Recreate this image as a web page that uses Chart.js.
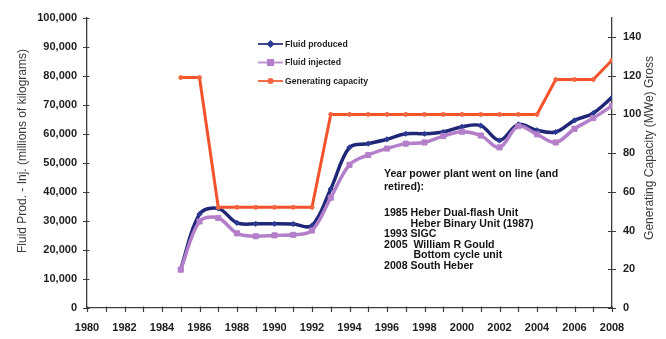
<!DOCTYPE html>
<html>
<head>
<meta charset="utf-8">
<script src="https://cdn.jsdelivr.net/npm/chart.js@4.4.1/dist/chart.umd.min.js"></script>
<style>
  html, body { margin: 0; padding: 0; background: #ffffff; }
  #wrap { width: 666px; height: 339px; }
</style>
</head>
<body>
<div id="wrap"><canvas id="c" width="666" height="339"></canvas></div>
<script>
// Heber geothermal field: yearly fluid production / injection and installed capacity
const years = [1985, 1986, 1987, 1988, 1989, 1990, 1991, 1992, 1993, 1994, 1995, 1996,
               1997, 1998, 1999, 2000, 2001, 2002, 2003, 2004, 2005, 2006, 2007, 2008];

// millions of kilograms
const fluidProduced = [13500, 32300, 34300, 29300, 29000, 29000, 28900, 28400, 41000, 55300, 56600, 58100,
                       60000, 60000, 60600, 62400, 62800, 57700, 63200, 61200, 60600, 64600, 67100, 72500];
const fluidInjected = [13200, 29800, 31000, 25700, 24700, 25000, 25200, 26700, 38000, 49300, 52700, 54900,
                       56600, 57000, 59200, 60700, 59400, 55300, 62600, 59800, 57000, 61700, 65400, 69600];

// MWe gross
const generatingCapacity = [119, 119, 52, 52, 52, 52, 52, 52, 100, 100, 100, 100,
                            100, 100, 100, 100, 100, 100, 100, 100, 118, 118, 118, 128];

const seriesLabels = ['Fluid produced', 'Fluid injected', 'Generating capacity'];
const leftAxisTitle = 'Fluid Prod. - Inj. (millions of kilograms)';
const rightAxisTitle = 'Generating Capacity (MWe) Gross';

const noteLines = [
  'Year power plant went on line (and',
  'retired):',
  '',
  '1985 Heber Dual-flash Unit',
  '         Heber Binary Unit (1987)',
  '1993 SIGC',
  '2005  William R Gould',
  '          Bottom cycle unit',
  '2008 South Heber'
];

const COL_PROD = '#1f2776';
const COL_INJ = '#b47fca';
const COL_CAP = '#f2532b';
const AXIS_COL = '#3c3c3c';
const TEXT_COL = '#1e1e1e';
const FONT = '"Liberation Sans", Arial, sans-serif';

const pts = vals => years.map((y, i) => ({ x: y, y: vals[i] }));

// Axis decorations, titles, in-plot legend and the plant notes
const decor = {
  id: 'decor',
  afterDraw(chart) {
    const ctx = chart.ctx;
    const a = chart.chartArea;
    const sx = chart.scales.x, sl = chart.scales.yL, sr = chart.scales.yR;
    ctx.save();
    ctx.strokeStyle = AXIS_COL;
    ctx.lineWidth = 1.2;
    ctx.beginPath();
    sl.ticks.forEach(t => {
      const y = Math.round(sl.getPixelForValue(t.value)) + 0.5;
      ctx.moveTo(a.left - 4, y); ctx.lineTo(a.left + 2.5, y);
    });
    sr.ticks.forEach(t => {
      const y = Math.round(sr.getPixelForValue(t.value)) + 0.5;
      ctx.moveTo(a.right - 4, y); ctx.lineTo(a.right + 4, y);
    });
    for (let yr = sx.min; yr <= sx.max; yr++) {
      const x = Math.round(sx.getPixelForValue(yr)) + 0.5;
      ctx.moveTo(x, a.bottom - 1.5); ctx.lineTo(x, a.bottom + 4);
    }
    ctx.stroke();

    // axis titles (both read bottom to top)
    ctx.fillStyle = '#3a3a3a';
    ctx.font = '12px ' + FONT;
    ctx.textAlign = 'center';
    ctx.textBaseline = 'middle';
    ctx.save();
    ctx.translate(23, 151);
    ctx.rotate(-Math.PI / 2);
    ctx.fillText(leftAxisTitle, 0, 0);
    ctx.restore();
    ctx.save();
    ctx.translate(650, 148);
    ctx.rotate(-Math.PI / 2);
    ctx.fillText(rightAxisTitle, 0, 0);
    ctx.restore();

    // legend
    const order = [0, 1, 2];
    order.forEach(i => {
      const ds = chart.data.datasets[i];
      const y = 44 + i * 18.5;
      ctx.strokeStyle = ds.borderColor;
      ctx.globalAlpha = 0.85;
      ctx.lineWidth = 2;
      ctx.beginPath();
      ctx.moveTo(258, y); ctx.lineTo(283, y);
      ctx.stroke();
      ctx.globalAlpha = 1;
      ctx.fillStyle = ds.pointBackgroundColor;
      ctx.strokeStyle = ds.pointBorderColor;
      Chart.helpers.drawPoint(ctx, {
        pointStyle: ds.pointStyle, radius: ds.pointRadius, rotation: 0, borderWidth: 1
      }, 270.5, y);
      ctx.fillStyle = TEXT_COL;
      ctx.font = 'bold 8.7px ' + FONT;
      ctx.textAlign = 'left';
      ctx.textBaseline = 'middle';
      ctx.fillText(ds.label, 285, y + 0.5);
    });

    // notes on plant commissioning
    ctx.fillStyle = '#141414';
    ctx.font = 'bold 10.6px ' + FONT;
    ctx.textAlign = 'left';
    ctx.textBaseline = 'middle';
    const ys = [174.5, 186.8, 200, 213.5, 224, 234.5, 245, 255.5, 266];
    noteLines.forEach((s, i) => { if (s) ctx.fillText(s, 384, ys[i]); });
    ctx.restore();
  }
};

new Chart(document.getElementById('c'), {
  type: 'line',
  data: {
    datasets: [
      {
        label: seriesLabels[0], data: pts(fluidProduced), yAxisID: 'yL', order: 2,
        borderColor: COL_PROD, borderWidth: 3.5, tension: 0.35,
        pointStyle: 'rectRot', pointRadius: 2.6,
        pointBackgroundColor: '#2b3a92', pointBorderColor: '#2b3a92', pointBorderWidth: 1
      },
      {
        label: seriesLabels[1], data: pts(fluidInjected), yAxisID: 'yL', order: 1,
        borderColor: COL_INJ, borderWidth: 3.5, tension: 0.35,
        pointStyle: 'rect', pointRadius: 3.6,
        pointBackgroundColor: COL_INJ, pointBorderColor: COL_INJ, pointBorderWidth: 1
      },
      {
        label: seriesLabels[2], data: pts(generatingCapacity), yAxisID: 'yR', order: 0,
        borderColor: COL_CAP, borderWidth: 3, tension: 0,
        pointStyle: 'circle', pointRadius: 2,
        pointBackgroundColor: '#f4663f', pointBorderColor: '#f4663f', pointBorderWidth: 1
      }
    ]
  },
  options: {
    responsive: false,
    animation: false,
    devicePixelRatio: 1,
    layout: { padding: { top: 14, left: 0, right: 0, bottom: 0 } },
    plugins: { legend: { display: false }, tooltip: { enabled: false } },
    scales: {
      x: {
        type: 'linear', position: 'bottom', min: 1980, max: 2008,
        ticks: {
          stepSize: 2, autoSkip: false, maxRotation: 0, padding: 13,
          color: TEXT_COL, font: { family: FONT, size: 11, weight: 'bold' },
          callback: v => String(v)
        },
        grid: { display: false, drawTicks: false },
        border: { display: true, color: AXIS_COL, width: 1.3 },
        afterFit: s => { s.height = 31; }
      },
      yL: {
        type: 'linear', position: 'left', min: 0, max: 100000,
        ticks: {
          stepSize: 10000, padding: 10,
          color: TEXT_COL, font: { family: FONT, size: 11, weight: 'bold' },
          callback: v => Number(v).toLocaleString('en-US')
        },
        grid: { display: false, drawTicks: false },
        border: { display: true, color: AXIS_COL, width: 1.3 },
        afterFit: s => { s.width = 87; }
      },
      yR: {
        type: 'linear', position: 'right', min: 0, max: 150,
        ticks: {
          stepSize: 20, includeBounds: false, padding: 11,
          color: TEXT_COL, font: { family: FONT, size: 11, weight: 'bold' }
        },
        grid: { display: false, drawTicks: false },
        border: { display: true, color: AXIS_COL, width: 1.3 },
        afterFit: s => { s.width = 54; }
      }
    }
  },
  plugins: [decor]
});
</script>
</body>
</html>
